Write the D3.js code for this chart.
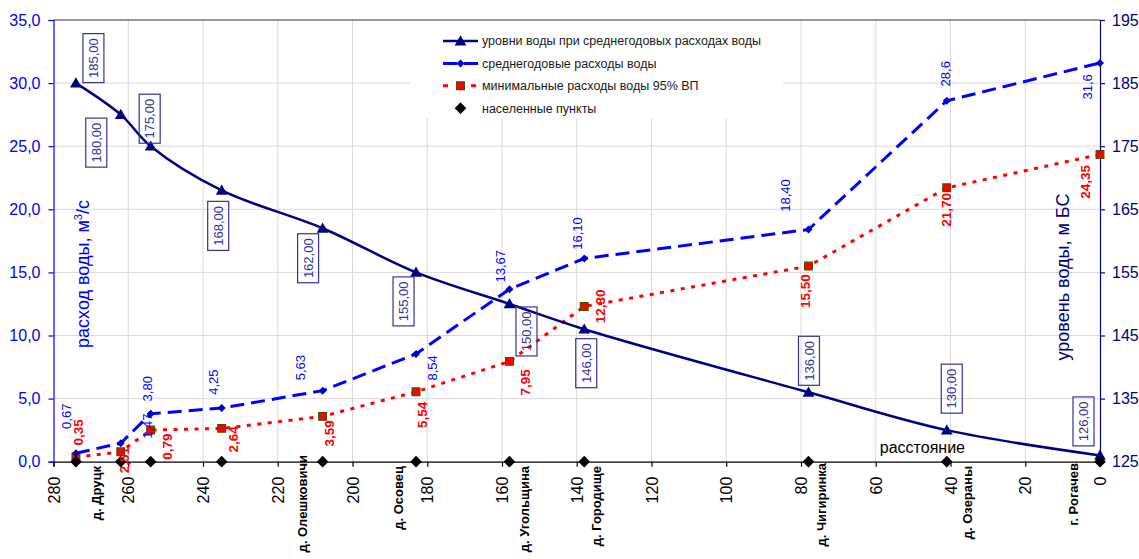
<!DOCTYPE html>
<html lang="ru">
<head>
<meta charset="utf-8">
<script src="https://cdn.jsdelivr.net/npm/d3@7/dist/d3.min.js"></script>
<style>
  html, body { margin: 0; padding: 0; background: #fff; }
  svg { display: block; font-family: Arial, "Liberation Sans", sans-serif; }
</style>
</head>
<body>
<svg id="chart" width="1139" height="559"></svg>
<script>
// Distance to the river mouth, km, for each gauge / settlement
const distanceKm = [274, 262, 254, 235, 208, 183, 158, 138, 78, 41, 0];
// Water level at mean annual discharge, m (Baltic system)
const waterLevel = [185, 180, 175, 168, 162, 155, 150, 146, 136, 130, 126];
// Mean annual discharge, m3/s
const meanFlow = [0.67, 1.47, 3.80, 4.25, 5.63, 8.54, 13.67, 16.10, 18.40, 28.6, 31.6];
const meanFlowDecimals = [2, 2, 2, 2, 2, 2, 2, 2, 2, 1, 1];
// Minimum discharge, 95% exceedance probability, m3/s
const minFlow = [0.35, 0.79, 2.51, 2.64, 3.59, 5.54, 7.95, 12.30, 15.50, 21.70, 24.35];
// Settlement names and where their captions sit along the distance axis
const settlementNames = ["д. Друцк", "д. Олешковичи", "д. Осовец", "д. Угольщина", "д. Городище",
  "д. Чигиринка", "д. Озераны", "г. Рогачев"];
const settlementLabelKm = [268.4, 213.3, 187.8, 153.9, 134.6, 74.4, 35.6, 7];
// Axis ticks
const distanceTicks = d3.range(0, 281, 20);
const flowTicks = d3.range(0, 35.1, 5);
const levelTicks = d3.range(125, 196, 10);

// Label placement (offsets in px from the marker), kept apart from the data
const settlementLabelTop = [466, 455, 466, 466, 466, 463, 466, 463];
const levelLabelOffset = [[17.5,-25],[-24.5,28],[-1,-27.5],[-3.5,35.5],[-14.5,30],[-12.5,29],
  [17,27.5],[2,34],[0.5,-31.5],[5,-41.5],[-16.5,-34]];
const meanLabelOffset = [[-9,-37],[27,-17],[-3,-25],[-8,-26],[-22,-23],[16,14],[-9,-23],
  [-7,-25],[-23,-34],[-1,-27],[-13,24]];
const minLabelOffset = [[2,-25],[46,-5],[-26,30],[12,11],[7,17],[6,23],[16,21],[16,0],
  [-3,25],[0,22],[-15,27.5]];

const svg = d3.select("#chart");
const plot = { left: 53.5, right: 1100, top: 20, bottom: 461.7 };

const x = d3.scaleLinear().domain([280, 0]).range([plot.left, plot.right]);
const yFlow = d3.scaleLinear().domain([0, 35]).range([plot.bottom, plot.top]);
const yLevel = d3.scaleLinear().domain([125, 195]).range([plot.bottom, plot.top]);

const comma = (v, d) => v.toFixed(d).replace(".", ",");
const NAVY = "#000080", BLUE = "#0000ff", RED = "#ff0000", LABEL_NAVY = "#333399";

// Grid
const grid = svg.append("g").attr("stroke", "#d9d9d9").attr("stroke-width", 1);
grid.selectAll("line.v").data(distanceTicks.filter(d => d > 0 && d < 280)).join("line")
  .attr("x1", d => x(d)).attr("x2", d => x(d))
  .attr("y1", plot.top).attr("y2", plot.bottom);
grid.selectAll("line.h").data(flowTicks.filter(d => d > 0 && d < 35)).join("line")
  .attr("x1", plot.left).attr("x2", plot.right)
  .attr("y1", d => yFlow(d)).attr("y2", d => yFlow(d));

// Top border of the plot area
svg.append("line").attr("x1", plot.left).attr("x2", plot.right)
  .attr("y1", plot.top).attr("y2", plot.top).attr("stroke", "#333").attr("stroke-width", 1.2);

// Legend background
svg.append("rect").attr("x", 410).attr("y", plot.top + 1).attr("width", 373).attr("height", 97)
  .attr("fill", "#fff");

// Axes
const axLeft = svg.append("g").attr("transform", `translate(${plot.left},0)`)
  .call(d3.axisLeft(yFlow).tickValues(flowTicks).tickFormat(d => comma(d, 1)).tickSize(5).tickPadding(8));
axLeft.selectAll("path, line").attr("stroke", BLUE).attr("stroke-width", 1.2);
axLeft.selectAll("text").attr("fill", BLUE).attr("font-size", 16).attr("font-family", null);

const axRight = svg.append("g").attr("transform", `translate(${plot.right},0)`)
  .call(d3.axisRight(yLevel).tickValues(levelTicks).tickFormat(d3.format("d")).tickSize(5).tickPadding(7));
axRight.selectAll("path, line").attr("stroke", NAVY).attr("stroke-width", 1.2);
axRight.selectAll("text").attr("fill", NAVY).attr("font-size", 16).attr("font-family", null);

const axBottom = svg.append("g").attr("transform", `translate(0,${plot.bottom})`)
  .call(d3.axisBottom(x).tickValues(distanceTicks).tickFormat(d3.format("d")).tickSize(5).tickPadding(0));
axBottom.selectAll("path, line").attr("stroke", "#000").attr("stroke-width", 1.2);
axBottom.selectAll("text").attr("fill", "#000").attr("font-size", 16).attr("font-family", null)
  .attr("transform", "rotate(-90)").attr("text-anchor", "end")
  .attr("x", -15).attr("y", 0).attr("dy", "0.35em");

// Axis titles
const leftTitle = svg.append("text")
  .attr("transform", `translate(83,274) rotate(-90)`)
  .attr("text-anchor", "middle").attr("dy", "0.35em")
  .attr("fill", BLUE).attr("font-size", 18);
leftTitle.append("tspan").text("расход воды, м");
leftTitle.append("tspan").attr("font-size", 11).attr("dy", -7).text("3");
leftTitle.append("tspan").attr("dy", 7).text("/с");

svg.append("text")
  .attr("transform", `translate(1063,277) rotate(-90)`)
  .attr("text-anchor", "middle").attr("dy", "0.35em")
  .attr("fill", NAVY).attr("font-size", 18).text("уровень воды, м БС");

svg.append("text").attr("x", 965).attr("y", 453).attr("text-anchor", "end")
  .attr("fill", "#000").attr("font-size", 16).text("расстояние");

// Series
const pts = (vals, y) => vals.map((v, i) => [x(distanceKm[i]), y(v)]);
const levelPts = pts(waterLevel, yLevel);
const meanPts = pts(meanFlow, yFlow);
const minPts = pts(minFlow, yFlow);

svg.append("path").attr("d", d3.line().curve(d3.curveLinear)(minPts))
  .attr("fill", "none").attr("stroke", RED).attr("stroke-width", 3)
  .attr("stroke-dasharray", "4,6.5");

svg.append("path").attr("d", d3.line().curve(d3.curveLinear)(meanPts))
  .attr("fill", "none").attr("stroke", BLUE).attr("stroke-width", 3)
  .attr("stroke-dasharray", "14,7");

svg.append("path").attr("d", d3.line().curve(d3.curveCatmullRom.alpha(0.5))(levelPts))
  .attr("fill", "none").attr("stroke", NAVY).attr("stroke-width", 2.5);

// Markers (diamonds are squares turned by 45°)
const tri = d3.symbol().type(d3.symbolTriangle).size(60);
const dia = d3.symbol().type(d3.symbolSquare).size(32);
const bigDia = d3.symbol().type(d3.symbolSquare).size(68);
const sq = d3.symbol().type(d3.symbolSquare).size(60);

svg.append("g").selectAll("path").data(minPts).join("path")
  .attr("transform", d => `translate(${d[0]},${d[1]})`)
  .attr("d", sq()).attr("fill", RED).attr("stroke", "#4d4d00").attr("stroke-width", 1.2);

svg.append("g").selectAll("path").data(meanPts).join("path")
  .attr("transform", d => `translate(${d[0]},${d[1]}) rotate(45)`)
  .attr("d", dia()).attr("fill", "#0000c0");

svg.append("g").selectAll("path").data(levelPts).join("path")
  .attr("transform", d => `translate(${d[0]},${d[1] + 1})`)
  .attr("d", tri()).attr("fill", NAVY);

// Settlements on the distance axis
svg.append("g").selectAll("path").data(distanceKm).join("path")
  .attr("transform", d => `translate(${x(d)},${plot.bottom}) rotate(45)`)
  .attr("d", bigDia()).attr("fill", "#000");

svg.append("g").selectAll("text").data(settlementNames).join("text")
  .attr("transform", (d, i) => `translate(${x(settlementLabelKm[i])},${settlementLabelTop[i]}) rotate(-90)`)
  .attr("text-anchor", "end").attr("dy", "0.35em")
  .attr("font-size", 13).attr("font-weight", "bold").attr("fill", "#000")
  .text(d => d);

// Data labels: discharges
svg.append("g").selectAll("text").data(minFlow).join("text")
  .attr("transform", (d, i) => `translate(${minPts[i][0] + minLabelOffset[i][0]},${minPts[i][1] + minLabelOffset[i][1]}) rotate(-90)`)
  .attr("text-anchor", "middle").attr("dy", "0.35em")
  .attr("font-size", 13.5).attr("font-weight", "bold").attr("fill", RED)
  .text(d => comma(d, 2));

svg.append("g").selectAll("text").data(meanFlow).join("text")
  .attr("transform", (d, i) => `translate(${meanPts[i][0] + meanLabelOffset[i][0]},${meanPts[i][1] + meanLabelOffset[i][1]}) rotate(-90)`)
  .attr("text-anchor", "middle").attr("dy", "0.35em")
  .attr("font-size", 13).attr("fill", BLUE)
  .text((d, i) => comma(d, meanFlowDecimals[i]));

// Data labels: water levels in boxes
const lvl = svg.append("g").selectAll("g").data(waterLevel).join("g")
  .attr("transform", (d, i) => `translate(${levelPts[i][0] + levelLabelOffset[i][0]},${levelPts[i][1] + levelLabelOffset[i][1]}) rotate(-90)`);
lvl.append("rect").attr("x", -24.5).attr("y", -10.5).attr("width", 49).attr("height", 21)
  .attr("fill", "none").attr("stroke", LABEL_NAVY).attr("stroke-width", 1.2);
lvl.append("text").attr("text-anchor", "middle").attr("dy", "0.35em")
  .attr("font-size", 13).attr("fill", LABEL_NAVY).text(d => comma(d, 2));

// Legend
const legendItems = [
  { label: "уровни воды при среднегодовых расходах воды", kind: "level" },
  { label: "среднегодовые расходы воды", kind: "mean" },
  { label: "минимальные расходы воды 95% ВП", kind: "min" },
  { label: "населенные пункты", kind: "town" }
];
const lg = svg.append("g").selectAll("g").data(legendItems).join("g")
  .attr("transform", (d, i) => `translate(443,${41 + i * 22.4})`);
lg.each(function (d) {
  const g = d3.select(this);
  if (d.kind === "level") {
    g.append("line").attr("x1", 0).attr("x2", 35).attr("stroke", NAVY).attr("stroke-width", 2.5);
    g.append("path").attr("transform", "translate(17.5,1)").attr("d", tri()).attr("fill", NAVY);
  } else if (d.kind === "mean") {
    g.append("line").attr("x1", 0).attr("x2", 35).attr("stroke", BLUE).attr("stroke-width", 3)
      .attr("stroke-dasharray", "14,7");
    g.append("path").attr("transform", "translate(17.5,0) rotate(45)").attr("d", dia()).attr("fill", "#0000c0");
  } else if (d.kind === "min") {
    g.append("line").attr("x1", 0).attr("x2", 35).attr("stroke", RED).attr("stroke-width", 3)
      .attr("stroke-dasharray", "5,23");
    g.append("path").attr("transform", "translate(17.5,0)").attr("d", sq())
      .attr("fill", RED).attr("stroke", "#4d4d00").attr("stroke-width", 1.2);
  } else {
    g.append("path").attr("transform", "translate(17.5,0) rotate(45)").attr("d", bigDia()).attr("fill", "#000");
  }
  g.append("text").attr("x", 39).attr("dy", "0.35em").attr("font-size", 12.5)
    .attr("fill", "#1a1a1a").text(d.label);
});
</script>
</body>
</html>
